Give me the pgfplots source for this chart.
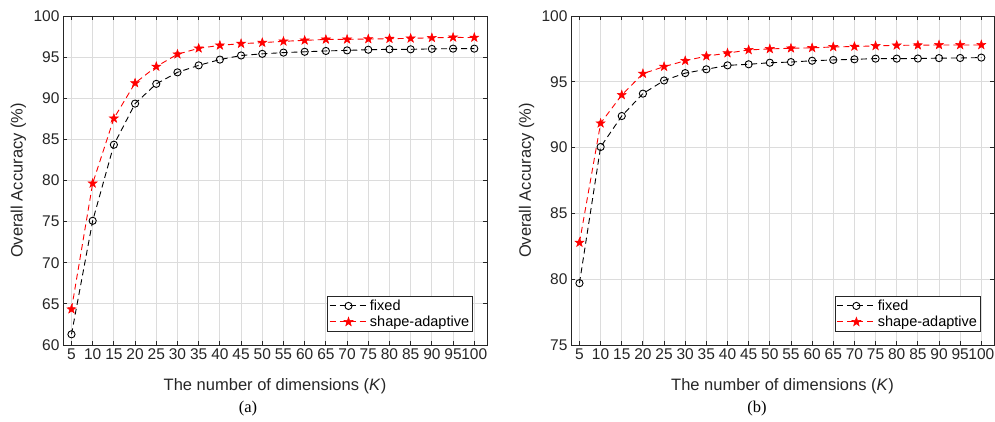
\documentclass[border=0pt]{standalone}
\usepackage{fontspec}
\setmainfont{Liberation Serif}
\setsansfont{Liberation Sans}
\usepackage{pgfplots}
\usepackage{pgfplotstable}
\pgfplotsset{compat=1.18}
\definecolor{axgray}{HTML}{262626}
\definecolor{gridgray}{HTML}{DCDCDC}

% filled five-pointed star
\pgfdeclareplotmark{pstar}{%
  \pgfpathmoveto{\pgfpointpolar{90}{\pgfplotmarksize}}%
  \pgfpathlineto{\pgfpointpolar{126}{0.4\pgfplotmarksize}}%
  \pgfpathlineto{\pgfpointpolar{162}{\pgfplotmarksize}}%
  \pgfpathlineto{\pgfpointpolar{198}{0.4\pgfplotmarksize}}%
  \pgfpathlineto{\pgfpointpolar{234}{\pgfplotmarksize}}%
  \pgfpathlineto{\pgfpointpolar{270}{0.4\pgfplotmarksize}}%
  \pgfpathlineto{\pgfpointpolar{306}{\pgfplotmarksize}}%
  \pgfpathlineto{\pgfpointpolar{342}{0.4\pgfplotmarksize}}%
  \pgfpathlineto{\pgfpointpolar{18}{\pgfplotmarksize}}%
  \pgfpathlineto{\pgfpointpolar{54}{0.4\pgfplotmarksize}}%
  \pgfpathclose
  \pgfusepathqfillstroke
}

% (a)
\pgfplotstableread{
K acc
5 61.3
10 75.1
15 84.35
20 89.35
25 91.75
30 93.15
35 94.0
40 94.7
45 95.2
50 95.4
55 95.55
60 95.65
65 95.75
70 95.82
75 95.9
80 95.95
85 95.95
90 96.0
95 96.03
100 96.03
}\fixA
\pgfplotstableread{
K acc
5 64.35
10 79.65
15 87.55
20 91.85
25 93.85
30 95.35
35 96.07
40 96.43
45 96.64
50 96.76
55 96.92
60 97.04
65 97.15
70 97.16
75 97.2
80 97.24
85 97.28
90 97.35
95 97.4
100 97.38
}\adaA
% (b)
\pgfplotstableread{
K acc
5 79.7
10 90.05
15 92.4
20 94.1
25 95.1
30 95.66
35 95.95
40 96.25
45 96.33
50 96.45
55 96.5
60 96.6
65 96.66
70 96.71
75 96.76
80 96.76
85 96.77
90 96.8
95 96.81
100 96.84
}\fixB
\pgfplotstableread{
K acc
5 82.78
10 91.85
15 94.0
20 95.62
25 96.15
30 96.6
35 96.95
40 97.18
45 97.42
50 97.5
55 97.55
60 97.58
65 97.65
70 97.68
75 97.73
80 97.77
85 97.78
90 97.8
95 97.8
100 97.8
}\adaB

\pgfplotsset{
  matstyle/.style={
    scale only axis,
    width=424pt, height=329pt,
    xmin=3, xmax=103,
    xtick={5,10,...,100},
    grid=major,
    major grid style={gridgray, line width=0.8pt},
    axis line style={axgray, line width=0.9pt},
    tick style={axgray, line width=0.9pt},
    major tick length=4pt,
    tick align=inside,
    ticklabel style={font=\fontsize{15.5}{18}\selectfont\sffamily, text=axgray},
    /pgf/number format/assume math mode=true,
    label style={font=\fontsize{16.5}{20}\selectfont\sffamily, text=axgray},
    xlabel={The number of dimensions (\textit{K})},
    ylabel={Overall Accuracy (\%)},
    xlabel style={at={(axis description cs:0.5,-0.124)}, anchor=center},
    ylabel style={at={(axis description cs:-0.105,0.5)}, anchor=center},
    legend style={anchor=south east, draw=axgray, line width=0.8pt,
      font=\fontsize{14.5}{17}\selectfont\sffamily, text=black,
      inner xsep=1.5pt, inner ysep=1.5pt,
      nodes={inner sep=2pt},
      /tikz/every even column/.append style={column sep=0pt}},
    legend cell align=left,
    legend image code/.code={\draw[mark repeat=2,mark phase=2,##1] plot coordinates {(0pt,0pt)(19pt,0pt)(38pt,0pt)};},
  },
  fixline/.style={black, line width=0.9pt, dash pattern=on 6pt off 4pt, mark=o, mark size=3.6pt, mark options={solid, line width=0.9pt}},
  adaline/.style={red, line width=0.9pt, dash pattern=on 6pt off 4pt, mark=pstar, mark size=4.7pt, mark options={solid, fill=red, draw=red, line width=0.5pt}},
}

\begin{document}
\begin{tikzpicture}
\path[use as bounding box] (0,0) rectangle (995pt,421pt);
\begin{axis}[matstyle, at={(63pt,76pt)}, anchor=south west,
  ymin=60, ymax=100, ytick={60,65,...,100},
  legend style={at={(rel axis cs:0.967,0.04)}}]
\addplot[fixline] table[x=K, y=acc] {\fixA};
\addlegendentry{fixed}
\addplot[adaline] table[x=K, y=acc] {\adaA};
\addlegendentry{shape-adaptive}
\end{axis}
\node[font=\fontsize{16.5}{19}\selectfont] at (248pt,12pt) {(a)};

\begin{axis}[matstyle, at={(571pt,76pt)}, anchor=south west,
  width=423pt,
  ymin=75, ymax=100, ytick={75,80,...,100},
  legend style={at={(rel axis cs:0.969,0.04)}}]
\addplot[fixline] table[x=K, y=acc] {\fixB};
\addlegendentry{fixed}
\addplot[adaline] table[x=K, y=acc] {\adaB};
\addlegendentry{shape-adaptive}
\end{axis}
\node[font=\fontsize{16.5}{19}\selectfont] at (757pt,12pt) {(b)};
\end{tikzpicture}
\end{document}
